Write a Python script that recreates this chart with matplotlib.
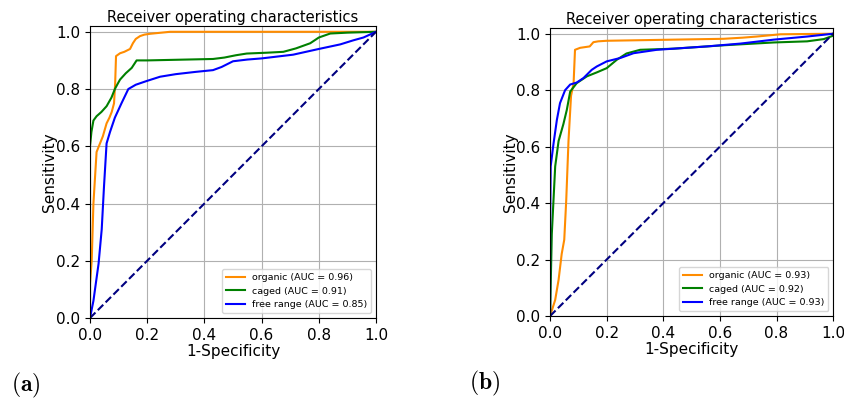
import numpy as np
import matplotlib.pyplot as plt

plt.rcParams['mathtext.fontset'] = 'cm'

# panel (a)
a_org_x = [0, 0, 0.006, 0.012, 0.023, 0.035, 0.045, 0.058, 0.068, 0.076, 0.084, 0.088, 0.091, 0.105, 0.12, 0.14, 0.15, 0.16, 0.175, 0.19, 0.21, 0.25, 0.28, 1.0]
a_org_y = [0, 0.12, 0.2, 0.4, 0.58, 0.61, 0.635, 0.68, 0.70, 0.72, 0.75, 0.82, 0.915, 0.925, 0.93, 0.94, 0.96, 0.975, 0.985, 0.99, 0.993, 0.997, 1.0, 1.0]
a_cag_x = [0, 0, 0.005, 0.012, 0.023, 0.04, 0.058, 0.075, 0.087, 0.095, 0.105, 0.125, 0.146, 0.163, 0.2, 0.43, 0.47, 0.51, 0.548, 0.62, 0.676, 0.72, 0.77, 0.8, 0.84, 0.9, 1.0]
a_cag_y = [0, 0.6, 0.65, 0.69, 0.705, 0.72, 0.74, 0.77, 0.8, 0.815, 0.833, 0.855, 0.874, 0.9, 0.9, 0.905, 0.91, 0.918, 0.924, 0.927, 0.93, 0.942, 0.96, 0.98, 0.994, 0.997, 1.0]
a_fr_x = [0, 0.012, 0.03, 0.041, 0.049, 0.058, 0.07, 0.087, 0.11, 0.134, 0.16, 0.198, 0.245, 0.3, 0.37, 0.43, 0.46, 0.5, 0.55, 0.6, 0.71, 0.8, 0.875, 0.92, 0.956, 1.0]
a_fr_y = [0, 0.06, 0.19, 0.31, 0.46, 0.61, 0.65, 0.70, 0.75, 0.80, 0.815, 0.828, 0.843, 0.852, 0.86, 0.866, 0.877, 0.897, 0.903, 0.907, 0.92, 0.94, 0.956, 0.97, 0.98, 1.0]
a_auc = [0.96, 0.91, 0.85]

# panel (b)
b_org_x = [0, 0.018, 0.03, 0.041, 0.05, 0.057, 0.065, 0.074, 0.083, 0.088, 0.106, 0.14, 0.153, 0.17, 0.2, 0.436, 0.613, 0.68, 0.73, 0.814, 1.0]
b_org_y = [0, 0.057, 0.128, 0.22, 0.27, 0.41, 0.62, 0.78, 0.825, 0.943, 0.95, 0.955, 0.97, 0.973, 0.975, 0.979, 0.982, 0.986, 0.99, 0.998, 1.0]
b_cag_x = [0, 0.003, 0.006, 0.012, 0.018, 0.03, 0.047, 0.059, 0.071, 0.094, 0.13, 0.165, 0.2, 0.236, 0.27, 0.318, 0.436, 0.613, 0.79, 0.908, 0.967, 1.0, 1.0]
b_cag_y = [0, 0.15, 0.29, 0.41, 0.53, 0.62, 0.68, 0.73, 0.795, 0.825, 0.849, 0.863, 0.878, 0.908, 0.93, 0.943, 0.947, 0.959, 0.969, 0.973, 0.981, 0.993, 1.0]
b_fr_x = [0, 0, 0.002, 0.012, 0.024, 0.035, 0.053, 0.071, 0.094, 0.118, 0.147, 0.165, 0.2, 0.248, 0.295, 0.377, 0.554, 0.672, 0.79, 0.908, 1.0]
b_fr_y = [0, 0.3, 0.53, 0.61, 0.695, 0.754, 0.8, 0.82, 0.827, 0.843, 0.872, 0.884, 0.902, 0.914, 0.931, 0.943, 0.955, 0.965, 0.979, 0.99, 1.0]
b_auc = [0.93, 0.92, 0.93]

names = ['organic', 'caged', 'free range']
colors = ['darkorange', 'green', 'blue']

fig = plt.figure(figsize=(8.45, 4.01), dpi=100)
ax1 = fig.add_axes([0.1065, 0.207, 0.3385, 0.728])
ax2 = fig.add_axes([0.651, 0.212, 0.335, 0.718])

panels = [
    (ax1, [(a_org_x, a_org_y), (a_cag_x, a_cag_y), (a_fr_x, a_fr_y)], a_auc),
    (ax2, [(b_org_x, b_org_y), (b_cag_x, b_cag_y), (b_fr_x, b_fr_y)], b_auc),
]
for ax, curves, aucs in panels:
    for (cx, cy), name, col, auc in zip(curves, names, colors, aucs):
        ax.plot(cx, cy, color=col, lw=1.5, label='%s (AUC = %.2f)' % (name, auc))
    ax.plot([0, 1], [0, 1], color='navy', lw=1.5, ls='--')
    ax.set_xlim(0, 1.0)
    ax.set_ylim(0, 1.02)
    ax.grid(True)
    ax.set_title('Receiver operating characteristics', fontsize=10.5, pad=3)
    ax.set_xlabel('1-Specificity', fontsize=11, labelpad=1)
    ax.set_ylabel('Sensitivity', fontsize=11, labelpad=-1)
    ax.tick_params(labelsize=11)
    ax.legend(loc='lower right', fontsize=6.8)

fig.text(0.013, 0.025, r'$\mathbf{(a)}$', fontsize=17)
fig.text(0.555, 0.028, r'$\mathbf{(b)}$', fontsize=17)

fig.savefig('out.png', dpi=100)
